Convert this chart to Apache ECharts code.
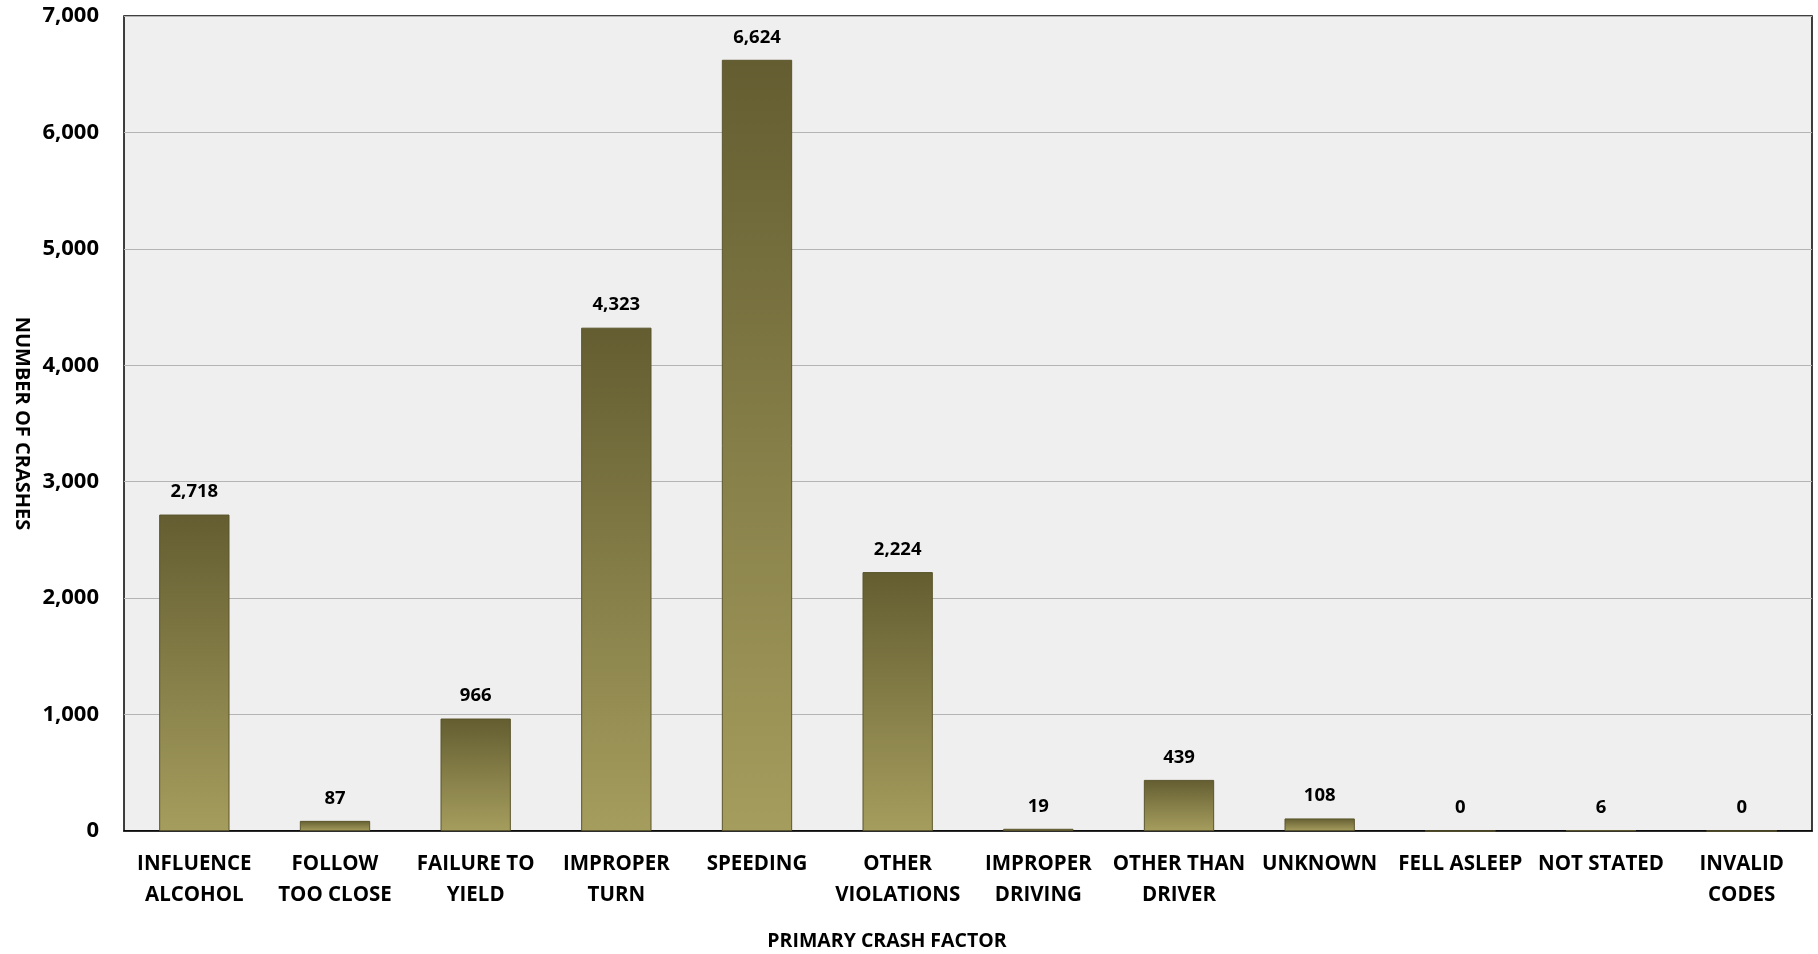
<!DOCTYPE html>
<html><head><meta charset="utf-8">
<script src="https://cdn.jsdelivr.net/npm/echarts@6/dist/echarts.min.js"></script>
<style>html,body{margin:0;padding:0;background:#fff}#c{width:1818px;height:954px}</style>
</head><body><div id="c"></div>
<script>
const categories = ['INFLUENCE\nALCOHOL','FOLLOW\nTOO CLOSE','FAILURE TO\nYIELD','IMPROPER\nTURN','SPEEDING','OTHER\nVIOLATIONS','IMPROPER\nDRIVING','OTHER THAN\nDRIVER','UNKNOWN','FELL ASLEEP','NOT STATED','INVALID\nCODES'];
const crashes = [2718, 87, 966, 4323, 6624, 2224, 19, 439, 108, 0, 6, 0];
const yTicks = {min: 0, max: 7000, interval: 1000};
const xTitle = 'PRIMARY CRASH FACTOR';
const yTitle = 'NUMBER OF CRASHES';

const FONT = 'Open Sans';
const chart = echarts.init(document.getElementById('c'));
chart.setOption({
  animation: false,
  title: {text: xTitle, left: 887, top: 931, textAlign: 'center', padding: 0,
    textStyle: {fontFamily: FONT, fontWeight: 'bold', fontSize: 19.5, color: '#000'}},
  grid: {left: 124, right: 6, top: 16, bottom: 123, containLabel: false, outerBoundsMode: 'none',
    show: true, backgroundColor: '#efefef', borderColor: '#000', borderWidth: 1.5},
  xAxis: {
    type: 'category', data: categories,
    axisLine: {lineStyle: {color: '#000', width: 1.5}},
    axisTick: {show: false},
    axisLabel: {interval: 0, margin: 18, fontFamily: FONT, fontWeight: 'bold', fontSize: 20.5, lineHeight: 31, color: '#000'}
  },
  yAxis: {
    type: 'value', min: yTicks.min, max: yTicks.max, interval: yTicks.interval,
    name: yTitle, nameLocation: 'middle', nameGap: 92, nameRotate: -90,
    nameTextStyle: {fontFamily: FONT, fontWeight: 'bold', fontSize: 20, color: '#000'},
    axisLine: {show: false}, axisTick: {show: false},
    splitLine: {lineStyle: {color: '#b4b4b4', width: 1.2}},
    axisLabel: {margin: 25, fontFamily: FONT, fontWeight: 'bold', fontSize: 22, color: '#000',
      formatter: v => v.toLocaleString('en-US')}
  },
  series: [{
    type: 'bar', data: crashes, barWidth: '50%',
    itemStyle: {
      color: new echarts.graphic.LinearGradient(0, 0, 0, 1, [
        {offset: 0, color: '#635d31'},
        {offset: 0.5, color: '#857e48'},
        {offset: 1, color: '#a59d5d'}
      ]),
      borderColor: '#5a552c', borderWidth: 1
    },
    label: {show: true, position: 'top', distance: 13, fontFamily: FONT, fontWeight: 'bold', fontSize: 18.5, color: '#000',
      formatter: p => p.value.toLocaleString('en-US')}
  }]
});
</script></body></html>
